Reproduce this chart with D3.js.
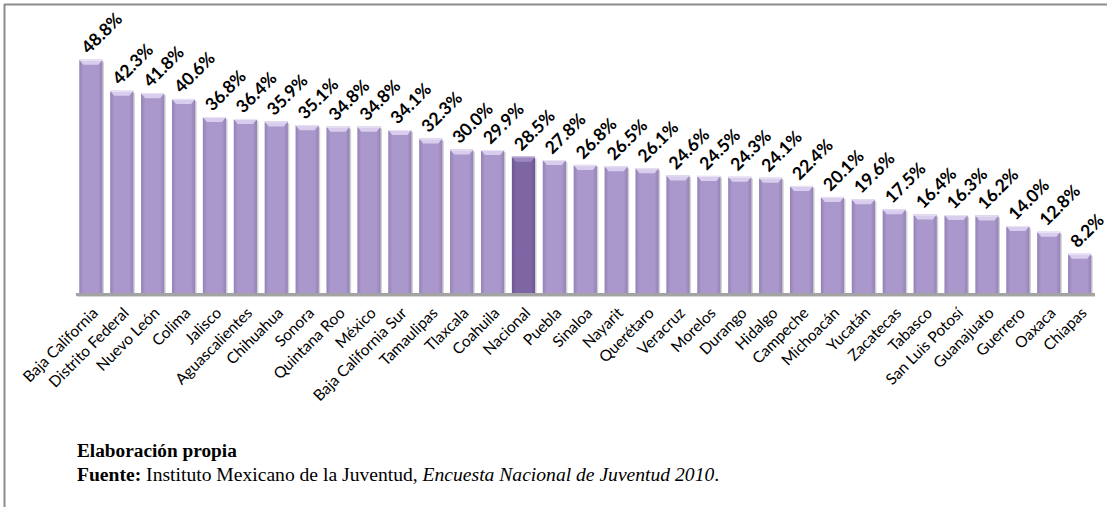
<!DOCTYPE html>
<html>
<head>
<meta charset="utf-8">
<script src="https://cdn.jsdelivr.net/npm/d3@7"></script>
<style>
  body { margin: 0; background: #fff; }
  svg { display: block; }
</style>
</head>
<body>
<script>
// datos: porcentaje por entidad
let estados = ['Baja California', 'Distrito Federal', 'Nuevo León', 'Colima', 'Jalisco', 'Aguascalientes',
    'Chihuahua', 'Sonora', 'Quintana Roo', 'México', 'Baja California Sur', 'Tamaulipas', 'Tlaxcala',
    'Coahuila', 'Nacional', 'Puebla', 'Sinaloa', 'Nayarit', 'Querétaro', 'Veracruz', 'Morelos', 'Durango',
    'Hidalgo', 'Campeche', 'Michoacán', 'Yucatán', 'Zacatecas', 'Tabasco', 'San Luis Potosí', 'Guanajuato',
    'Guerrero', 'Oaxaca', 'Chiapas'];
let valores = [48.8, 42.3, 41.8, 40.6, 36.8, 36.4, 35.9, 35.1, 34.8, 34.8, 34.1, 32.3, 30.0, 29.9, 28.5,
    27.8, 26.8, 26.5, 26.1, 24.6, 24.5, 24.3, 24.1, 22.4, 20.1, 19.6, 17.5, 16.4, 16.3, 16.2, 14.0, 12.8, 8.2];
let destacado = 'Nacional';

let width = 1107, height = 507;

let data = estados.map((e, i) => ({estado: e, valor: valores[i]}));

let svg = d3.select("body").append("svg")
    .attr("width", width)
    .attr("height", height);

let defs = svg.append("defs");

// gradients for the bar body
function addGrad(id, edge, mid) {
    let g = defs.append("linearGradient").attr("id", id)
        .attr("x1", "0%").attr("x2", "100%").attr("y1", "0%").attr("y2", "0%");
    g.append("stop").attr("offset", "0%").attr("stop-color", edge);
    g.append("stop").attr("offset", "18%").attr("stop-color", mid);
    g.append("stop").attr("offset", "82%").attr("stop-color", mid);
    g.append("stop").attr("offset", "100%").attr("stop-color", edge);
}
addGrad("barra", "#9481b6", "#aa97cc");
addGrad("barraNac", "#6c5690", "#7e66a5");

// marco
svg.append("line")
    .attr("x1", 4).attr("x2", width).attr("y1", 4.5).attr("y2", 4.5)
    .attr("stroke", "#8c8c8c").attr("stroke-width", 2);
svg.append("line")
    .attr("x1", 4.5).attr("x2", 4.5).attr("y1", 4).attr("y2", height)
    .attr("stroke", "#8c8c8c").attr("stroke-width", 2);

let x = d3.scaleBand()
    .domain(estados)
    .range([75.4, 1095.1])
    .paddingInner(0.25)
    .paddingOuter(0.125);

let y = d3.scaleLinear()
    .domain([0, 50])
    .range([293, 54]);

let bw = x.bandwidth();

// shadows
svg.append("g").selectAll("rect")
    .data(data)
    .join("rect")
    .attr("x", d => x(d.estado) + 1.5)
    .attr("y", d => y(d.valor) + 2)
    .attr("width", bw)
    .attr("height", d => y(0) - y(d.valor) - 2)
    .attr("fill", "#9a9a9a")
    .attr("opacity", 0.45);

let barras = svg.append("g").selectAll("g")
    .data(data)
    .join("g");

barras.append("rect")
    .attr("x", d => x(d.estado))
    .attr("y", d => y(d.valor))
    .attr("width", bw)
    .attr("height", d => y(0) - y(d.valor))
    .attr("fill", d => d.estado === destacado ? "url(#barraNac)" : "url(#barra)");

// bisel superior
barras.append("path")
    .attr("d", d => {
        let x0 = x(d.estado), t = y(d.valor);
        return `M${x0},${t}L${x0 + bw},${t}L${x0 + bw - 4},${t + 5}L${x0 + 4},${t + 5}Z`;
    })
    .attr("fill", d => d.estado === destacado ? "#9d89c0" : "#d8cdec");

barras.append("rect")
    .attr("x", d => x(d.estado))
    .attr("y", d => y(d.valor))
    .attr("width", bw)
    .attr("height", 1)
    .attr("fill", d => d.estado === destacado ? "#b7a7d4" : "#ebe4f6");

// eje
svg.append("line")
    .attr("x1", 76).attr("x2", 1095)
    .attr("y1", y(0) + 1.5).attr("y2", y(0) + 1.5)
    .attr("stroke", "#a3a3a3").attr("stroke-width", 3);
svg.append("line")
    .attr("x1", 77).attr("x2", 1095)
    .attr("y1", y(0) + 3.5).attr("y2", y(0) + 3.5)
    .attr("stroke", "#d6d6d6").attr("stroke-width", 1);

// etiquetas de valor
svg.append("g").selectAll("text")
    .data(data)
    .join("text")
    .attr("transform", d => `translate(${x(d.estado) + bw / 2 - 2},${y(d.valor) - 5}) rotate(-45)`)
    .attr("font-family", "Lato, 'Open Sans', sans-serif")
    .attr("font-weight", "bold")
    .attr("font-size", 17.5)
    .attr("fill", "#000")
    .text(d => d.valor.toFixed(1) + "%");

// etiquetas de categoría
svg.append("g").selectAll("text")
    .data(data)
    .join("text")
    .attr("transform", d => `translate(${x(d.estado) + bw / 2 + 8},${y(0) + 21}) rotate(-45)`)
    .attr("text-anchor", "end")
    .attr("font-family", "Lato, 'Open Sans', sans-serif")
    .attr("font-size", 15.5)
    .attr("fill", "#000")
    .text(d => d.estado);

// pie
let pie = svg.append("g")
    .attr("font-family", "'Liberation Serif', 'Times New Roman', serif")
    .attr("font-size", 19.3)
    .attr("fill", "#000");

pie.append("text")
    .attr("x", 77).attr("y", 457)
    .attr("font-weight", "bold")
    .text("Elaboración propia");

let fuente = pie.append("text")
    .attr("x", 77).attr("y", 481)
    .attr("font-size", 19.6);
fuente.append("tspan").attr("font-weight", "bold").text("Fuente:");
fuente.append("tspan").text(" Instituto Mexicano de la Juventud, ");
fuente.append("tspan").attr("font-style", "italic").text("Encuesta Nacional de Juventud 2010");
fuente.append("tspan").text(".");
</script>
</body>
</html>
